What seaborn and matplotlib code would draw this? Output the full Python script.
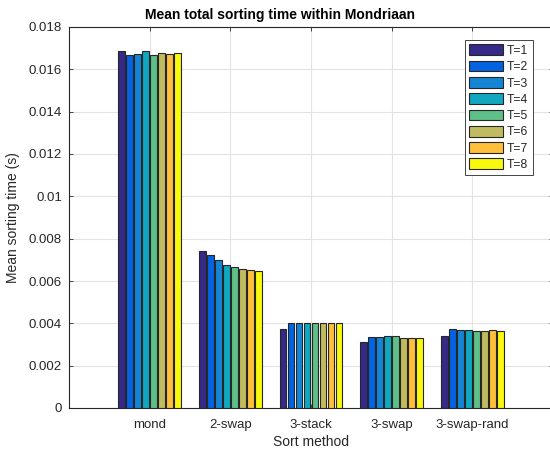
import matplotlib
matplotlib.use("Agg")
import matplotlib.pyplot as plt
import seaborn as sns
import pandas as pd
from matplotlib.ticker import FuncFormatter, MultipleLocator

methods = ["mond", "2-swap", "3-stack", "3-swap", "3-swap-rand"]
threads = ["T=1", "T=2", "T=3", "T=4", "T=5", "T=6", "T=7", "T=8"]
mond = [0.01685, 0.01669, 0.01672, 0.01685, 0.01666, 0.01677, 0.01672, 0.01677]
swap2 = [0.00740, 0.00723, 0.00701, 0.00676, 0.00665, 0.00657, 0.00652, 0.00646]
stack3 = [0.00373, 0.00401, 0.00401, 0.00402, 0.00401, 0.00401, 0.00401, 0.00401]
swap3 = [0.00310, 0.00334, 0.00334, 0.00339, 0.00339, 0.00332, 0.00333, 0.00333]
swap3rand = [0.00342, 0.00372, 0.00367, 0.00367, 0.00364, 0.00364, 0.00367, 0.00365]
colors = ["#352a87", "#0363e1", "#1485d4", "#0fa8c0", "#5fbf88", "#c0bb5f", "#ffbf3b", "#f9f90e"]

series = [mond, swap2, stack3, swap3, swap3rand]
rows = []
for m, vals in zip(methods, series):
    for t, v in zip(threads, vals):
        rows.append({"method": m, "T": t, "time": v})
df = pd.DataFrame(rows)

sns.set_theme(style="white")
plt.rcParams["font.family"] = ["Liberation Sans", "DejaVu Sans"]

fig = plt.figure(figsize=(5.5, 4.51), dpi=100)
ax = fig.add_axes([69/550, 1-408/451, 484/550, 381/451])

sns.barplot(data=df, x="method", y="time", hue="T", order=methods, hue_order=threads,
            palette=colors, saturation=1, width=0.79, gap=0.16, edgecolor="#262626",
            linewidth=0.8, errorbar=None, ax=ax, zorder=3)

ax.set_xlim(-1, 5)
ax.set_ylim(0, 0.018)
ax.yaxis.set_major_locator(MultipleLocator(0.002))
ax.yaxis.set_major_formatter(FuncFormatter(lambda v, p: "%g" % round(v, 4)))
ax.grid(True, color="#e3e3e3", linewidth=0.8, zorder=0)
ax.set_axisbelow(True)
ax.tick_params(axis="both", direction="in", length=3, width=0.6, colors="#262626",
               labelsize=9.5, labelcolor="#262626", top=True, right=True, bottom=True, left=True)
ax.tick_params(axis="x", pad=8)
ax.tick_params(axis="y", pad=5)
for s in ax.spines.values():
    s.set_color("#262626")
    s.set_linewidth(0.8)

ax.set_xlabel("Sort method", fontsize=10, color="#262626", labelpad=3)
ax.set_ylabel("Mean sorting time (s)", fontsize=10, color="#262626", labelpad=6)
ax.set_title("Mean total sorting time within Mondriaan", fontsize=10, fontweight="bold",
             color="#000000", pad=6, x=(280-69)/484)

leg = ax.legend(loc="upper right", bbox_to_anchor=(0.958, 0.966), fontsize=8.8,
                frameon=True, fancybox=False, edgecolor="#262626", framealpha=1,
                handlelength=2.8, handleheight=1.0, handletextpad=0.3,
                labelspacing=0.3, borderpad=0.35, borderaxespad=0)
leg.get_frame().set_linewidth(0.6)

fig.savefig("out.png", dpi=100)
